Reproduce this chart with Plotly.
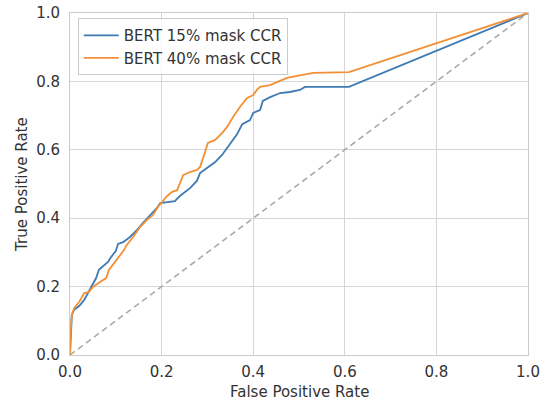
import plotly.graph_objects as go

fpr_15 = [0, 0.001, 0.004, 0.009, 0.020, 0.031, 0.039, 0.046, 0.057, 0.063, 0.074, 0.083, 0.090, 0.100,
          0.105, 0.116, 0.131, 0.146, 0.159, 0.175, 0.190, 0.197, 0.218, 0.229, 0.240, 0.251, 0.262,
          0.277, 0.284, 0.299, 0.317, 0.332, 0.343, 0.354, 0.365, 0.376, 0.386, 0.393, 0.400, 0.415,
          0.421, 0.437, 0.459, 0.480, 0.502, 0.513, 0.609, 1.0]
tpr_15 = [0, 0.044, 0.117, 0.132, 0.143, 0.161, 0.181, 0.199, 0.225, 0.249, 0.263, 0.272, 0.287, 0.304,
          0.325, 0.330, 0.345, 0.365, 0.386, 0.409, 0.430, 0.444, 0.447, 0.450, 0.465, 0.477, 0.488,
          0.509, 0.532, 0.547, 0.564, 0.585, 0.605, 0.623, 0.646, 0.675, 0.681, 0.687, 0.708, 0.716,
          0.743, 0.754, 0.766, 0.769, 0.775, 0.784, 0.784, 1.0]

fpr_40 = [0, 0.001, 0.004, 0.009, 0.020, 0.031, 0.041, 0.050, 0.063, 0.079, 0.085, 0.096, 0.107, 0.118,
          0.124, 0.138, 0.153, 0.168, 0.181, 0.192, 0.201, 0.212, 0.223, 0.234, 0.247, 0.262, 0.277,
          0.284, 0.295, 0.301, 0.317, 0.332, 0.343, 0.356, 0.371, 0.386, 0.400, 0.408, 0.415, 0.437,
          0.452, 0.474, 0.496, 0.531, 0.609, 1.0]
tpr_40 = [0, 0.058, 0.117, 0.137, 0.155, 0.181, 0.184, 0.199, 0.211, 0.225, 0.249, 0.269, 0.287, 0.307,
          0.322, 0.345, 0.374, 0.395, 0.409, 0.433, 0.447, 0.465, 0.477, 0.482, 0.526, 0.535, 0.541,
          0.550, 0.594, 0.620, 0.629, 0.649, 0.667, 0.696, 0.725, 0.751, 0.760, 0.775, 0.784, 0.789,
          0.798, 0.810, 0.816, 0.825, 0.827, 1.0]

chance = [0, 1]
tick_vals = [0, 0.2, 0.4, 0.6, 0.8, 1.0]
x_title = "False Positive Rate"
y_title = "True Positive Rate"

FONT = "DejaVu Sans"
TXT = "#333333"

fig = go.Figure()
fig.add_trace(go.Scatter(x=chance, y=chance, mode="lines", showlegend=False,
                         line=dict(color="#aaaaaa", width=1.6, dash="6px,4px")))
fig.add_trace(go.Scatter(x=fpr_15, y=tpr_15, mode="lines", name="BERT 15% mask CCR",
                         line=dict(color="#3f7ab5", width=1.8)))
fig.add_trace(go.Scatter(x=fpr_40, y=tpr_40, mode="lines", name="BERT 40% mask CCR",
                         line=dict(color="#f39035", width=1.8)))

axis_common = dict(range=[0, 1], tickvals=tick_vals, tickformat=".1f", showgrid=True,
                   gridcolor="#d6d6d6", gridwidth=1, zeroline=False, showline=True,
                   linecolor="#cccccc", linewidth=1, mirror=True, ticks="outside",
                   tickcolor="rgba(0,0,0,0)", tickfont=dict(family=FONT, size=15, color=TXT),
                   automargin=False)

fig.update_xaxes(**axis_common, ticklen=3)
fig.update_yaxes(**axis_common, ticklen=6)

fig.add_annotation(text=x_title, xref="paper", yref="paper", x=0.5, y=-0.108,
                   xanchor="center", yanchor="middle", showarrow=False,
                   font=dict(family=FONT, size=15, color=TXT))
fig.add_annotation(text=y_title, xref="paper", yref="paper", x=-0.105, y=0.5,
                   xanchor="center", yanchor="middle", showarrow=False, textangle=-90,
                   font=dict(family=FONT, size=15, color=TXT))

fig.update_layout(
    width=550, height=405,
    margin=dict(l=70, r=22, t=13, b=50),
    paper_bgcolor="white", plot_bgcolor="white",
    font=dict(family=FONT, size=15, color=TXT),
    legend=dict(x=0.017, y=0.985, xanchor="left", yanchor="top",
                bgcolor="rgba(255,255,255,0.8)", bordercolor="#cccccc", borderwidth=1,
                font=dict(family=FONT, size=15, color=TXT), tracegroupgap=0,
                itemwidth=35),
    showlegend=True,
)

fig.write_html("out.html")
